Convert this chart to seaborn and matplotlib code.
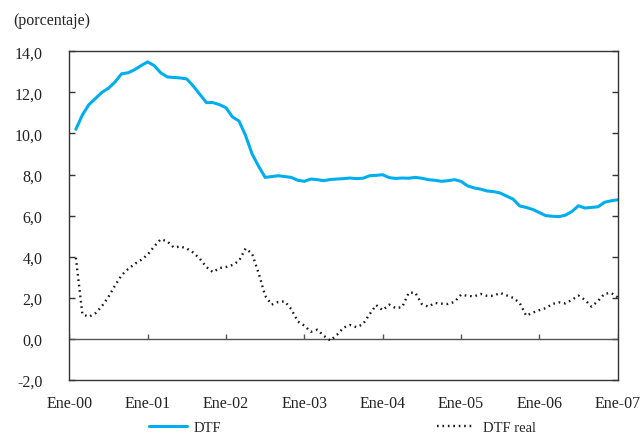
import matplotlib
matplotlib.use("Agg")
import matplotlib.pyplot as plt
import numpy as np
import pandas as pd
import seaborn as sns

# Monthly series, Feb-2000 .. Ene-2007 (month 1..84 after Ene-00)
months = np.arange(1, 85)

dtf = [
    10.2, 10.9, 11.4, 11.7, 12.0, 12.2, 12.5, 12.9, 12.95, 13.1,
    13.3, 13.48, 13.3, 12.95, 12.75, 12.72, 12.7, 12.65, 12.3, 11.9,
    11.5, 11.5, 11.4, 11.25, 10.8, 10.6, 9.9, 9.0, 8.4, 7.86,
    7.9, 7.94, 7.9, 7.86, 7.72, 7.67, 7.78, 7.75, 7.70, 7.76,
    7.78, 7.80, 7.83, 7.80, 7.82, 7.94, 7.96, 7.99, 7.85, 7.81,
    7.83, 7.82, 7.86, 7.82, 7.75, 7.72, 7.67, 7.70, 7.75, 7.67,
    7.45, 7.35, 7.29, 7.2, 7.17, 7.1, 6.95, 6.8, 6.47, 6.4,
    6.3, 6.15, 6.0, 5.97, 5.95, 6.02, 6.2, 6.48, 6.37, 6.40,
    6.43, 6.65, 6.72, 6.77,
]

dtf_real = [
    3.95, 1.2, 1.08, 1.25, 1.6, 2.05, 2.6, 3.1, 3.4, 3.65,
    3.85, 4.1, 4.5, 4.85, 4.75, 4.45, 4.5, 4.4, 4.2, 3.9,
    3.5, 3.25, 3.45, 3.5, 3.6, 3.8, 4.4, 4.15, 3.2, 2.1,
    1.67, 1.8, 1.83, 1.45, 0.85, 0.65, 0.35, 0.45, 0.15, -0.08,
    0.2, 0.55, 0.68, 0.57, 0.72, 1.2, 1.65, 1.4, 1.67, 1.5,
    1.55, 2.25, 2.25, 1.7, 1.57, 1.75, 1.72, 1.70, 1.8, 2.15,
    2.1, 2.07, 2.19, 2.1, 2.1, 2.24, 2.12, 2.0, 1.75, 1.13,
    1.28, 1.4, 1.5, 1.7, 1.78, 1.73, 1.9, 2.11, 1.9, 1.57,
    1.85, 2.2, 2.24, 2.03,
]

year_ticks = np.arange(0, 85, 12)
year_labels = ["Ene-00", "Ene-01", "Ene-02", "Ene-03", "Ene-04", "Ene-05", "Ene-06", "Ene-07"]
y_ticks = np.arange(-2, 15, 2)

sns.set_theme(style="white")
plt.rcParams["font.family"] = ["Liberation Serif", "DejaVu Serif"]

df = pd.DataFrame({"mes": months, "DTF": dtf, "DTF real": dtf_real})

fig = plt.figure(figsize=(6.42, 4.35), dpi=100)
ax = fig.add_axes([0.108, 0.124, 0.854, 0.756])

sns.lineplot(data=df, x="mes", y="DTF", ax=ax, color="#00AEEF", linewidth=2.2, label="DTF")
sns.lineplot(data=df, x="mes", y="DTF real", ax=ax, color="#1a1a1a", linewidth=1.7,
             linestyle=(0, (0.7, 1.6)), label="DTF real")

ax.set_xlim(0, 84)
ax.set_ylim(-2, 14)

# zero axis with its own year ticks
ax.axhline(0, color="#555555", linewidth=1.0, zorder=1)
ax.vlines(year_ticks, 0, 0.25, color="#555555", linewidth=1.0, zorder=1)

ax.set_xticks(year_ticks)
ax.set_xticklabels(year_labels)
ax.set_yticks(y_ticks)
ax.set_yticklabels([f"{v:.1f}".replace(".", ",") for v in y_ticks])
ax.tick_params(axis="x", length=0, pad=11, labelsize=11.5, colors="#222222")
ax.tick_params(axis="y", direction="in", length=4, width=1, left=True, right=True,
               pad=19.5, labelsize=11.5, colors="#333333", labelcolor="#222222")
ax.set_xlabel("")
ax.set_ylabel("")

for side in ax.spines.values():
    side.set_color("#333333")
    side.set_linewidth(1.0)

fig.text(13 / 642, 1 - 21 / 435, "(porcentaje)", fontsize=11.5, va="center", ha="left", color="#222222")

handles, labels = ax.get_legend_handles_labels()
ax.get_legend().remove()
fig.legend(handles, labels, loc="center", bbox_to_anchor=(0.533, 0.016), ncol=2, frameon=False,
           fontsize=10.5, handlelength=2.6, handletextpad=0.5, columnspacing=14.8)

fig.savefig("out.png", dpi=100)
